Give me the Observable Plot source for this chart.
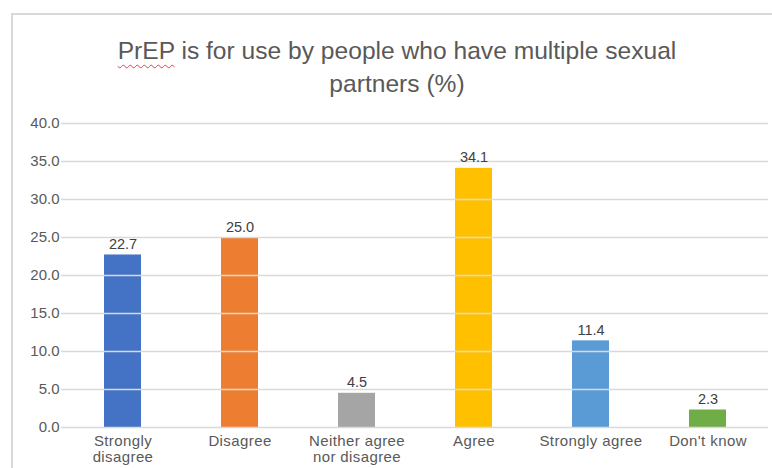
<!DOCTYPE html>
<html><head><meta charset="utf-8">
<script src="https://cdn.jsdelivr.net/npm/d3@7"></script>
<script src="https://cdn.jsdelivr.net/npm/@observablehq/plot@0.6"></script>
<style>
body{margin:0;background:#fff;font-family:"Liberation Sans",Arial,sans-serif;}
#wrap{position:relative;width:772px;height:468px;overflow:hidden;}
#frame{position:absolute;left:11px;top:13px;width:800px;height:500px;border-top:2px solid #d9d9d9;border-left:2px solid #d9d9d9;}
#title{position:absolute;top:34px;left:11px;width:772px;text-align:center;font-size:24.6px;line-height:33px;color:#595959;}
#title .sp{text-decoration:underline wavy #e0405a;text-decoration-thickness:1px;text-underline-offset:5px}
#chart{position:absolute;left:0;top:100px;}
#chart g[aria-label="x-axis tick label"] text{letter-spacing:0.4px}
</style>
</head><body>
<div id="wrap">
<div id="frame"></div>
<div id="title"><span class="sp">PrEP</span> is for use by people who have multiple sexual<br>partners (%)</div>
<div id="chart"></div>
</div>
<script>
const categories = ["Strongly disagree","Disagree","Neither agree nor disagree","Agree","Strongly agree","Don't know"];
const tickLabels = ["Strongly\ndisagree","Disagree","Neither agree\nnor disagree","Agree","Strongly agree","Don't know"];
const values = [22.7, 25.0, 4.5, 34.1, 11.4, 2.3];
const colors = ["#4472C4","#ED7D31","#A5A5A5","#FFC000","#5B9BD5","#70AD47"];
const yTicks = [0, 5, 10, 15, 20, 25, 30, 35, 40];

const data = categories.map((c, i) => ({category: c, value: values[i]}));

const chart = Plot.plot({
  width: 772, height: 368,
  marginLeft: 61, marginRight: 4, marginTop: 23, marginBottom: 41,
  style: {fontFamily: "Liberation Sans, Arial, sans-serif", background: "transparent", color: "#595959"},
  x: {domain: categories, paddingInner: 0.686, paddingOuter: 0.343, label: null},
  y: {domain: [0, 40], label: null},
  color: {domain: categories, range: colors},
  marks: [
    Plot.barY(data, {x: "category", y: "value", fill: "category"}),
    Plot.ruleY(yTicks, {stroke: "#d9d9d9", strokeWidth: 1.3}),
    Plot.axisY({ticks: yTicks, tickFormat: d => d.toFixed(1), tickSize: 0, tickPadding: 2, fontSize: 15, fill: "#595959", label: null}),
    Plot.axisX({tickSize: 0, tickPadding: 7, tickFormat: d => tickLabels[categories.indexOf(d)], fontSize: 15, lineHeight: 1.08, fill: "#595959", label: null}),
    Plot.text(data, {x: "category", y: "value", text: d => d.value.toFixed(1), lineAnchor: "bottom", dy: -6, fontSize: 14.5, fill: "#404040"})
  ]
});
document.getElementById("chart").appendChild(chart);
</script>
</body></html>
